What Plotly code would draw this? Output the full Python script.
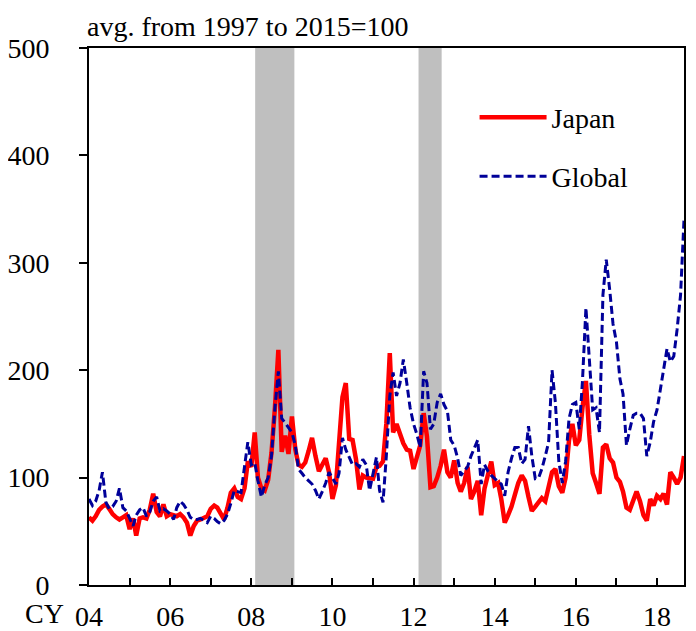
import pandas as pd
import plotly.graph_objects as go

# Monthly data, Jan 2004 - Sep 2018 (avg. 1997-2015 = 100)
start_month = "2004-01-01"

japan = [
    63, 60, 64, 70, 73, 75, 71, 66, 63, 61, 63, 65,          # 2004
    52, 62, 46, 62, 63, 62, 70, 85, 68, 64, 75, 64,          # 2005
    66, 65, 64, 66, 63, 58, 46, 55, 60, 61, 62, 64,          # 2006
    71, 74, 72, 67, 61, 72, 86, 90, 82, 80, 90, 115,         # 2007
    110, 142, 100, 90, 88, 98, 123, 165, 219, 124, 139, 122, # 2008
    157, 126, 112, 110, 114, 125, 137, 120, 106, 112, 118, 105,  # 2009
    80, 93, 140, 175, 188, 136, 135, 117, 89, 102, 100, 100, # 2010
    99, 110, 111, 115, 150, 216, 142, 150, 140, 132, 126, 125,   # 2011
    108, 118, 130, 160, 138, 91, 92, 100, 111, 126, 105, 100,    # 2012
    116, 95, 87, 95, 110, 80, 87, 97, 65, 90, 105, 115,      # 2013
    93, 95, 80, 58, 65, 73, 84, 95, 102, 97, 82, 69,         # 2014
    73, 77, 81, 78, 92, 105, 108, 92, 86, 100, 135, 150,     # 2015
    130, 135, 165, 190, 140, 104, 95, 85, 128, 131, 118, 114,    # 2016
    100, 96, 87, 72, 70, 80, 87, 78, 65, 60, 80, 74,         # 2017
    83, 80, 85, 75, 105, 100, 94, 100, 120,                  # 2018
]

global_idx = [
    80, 74, 78, 88, 105, 77, 71, 73, 78, 90, 72, 69,         # 2004
    62, 55, 65, 70, 72, 64, 68, 78, 82, 69, 71, 69,          # 2005
    66, 61, 72, 78, 75, 70, 63, 61, 61, 62, 60, 58,          # 2006
    64, 62, 59, 57, 60, 66, 76, 88, 87, 86, 110, 133,        # 2007
    112, 114, 97, 82, 93, 100, 120, 165, 199, 155, 151, 147, # 2008
    142, 130, 108, 104, 100, 97, 94, 88, 80, 87, 95, 105,    # 2009
    100, 94, 104, 137, 126, 118, 112, 113, 110, 117, 112, 88,    # 2010
    105, 119, 88, 77, 120, 176, 198, 176, 188, 210, 188, 165,    # 2011
    150, 140, 128, 199, 188, 145, 150, 170, 178, 168, 162, 135,  # 2012
    130, 118, 102, 106, 110, 120, 128, 135, 94, 112, 106, 102,   # 2013
    99, 96, 94, 83, 105, 118, 128, 128, 113, 117, 148, 120,  # 2014
    99, 100, 108, 120, 133, 200, 170, 115, 95, 115, 155, 168,    # 2015
    170, 145, 190, 258, 215, 163, 165, 142, 270, 303, 275, 243,  # 2016
    226, 192, 178, 130, 145, 158, 160, 160, 155, 120, 133, 152,  # 2017
    163, 182, 200, 220, 208, 213, 238, 270, 340,             # 2018
]

recession_start = ["2008-02-05", "2012-02-15"]
recession_end = ["2009-01-23", "2012-09-10"]

tick_years = list(range(2004, 2019))
tick_labels = [("%02d" % (y % 100)) if y % 2 == 0 else "" for y in tick_years]

dates = pd.date_range(start_month, periods=len(japan), freq="MS")

FONT = "Liberation Serif"
fig = go.Figure()

fig.add_trace(go.Scatter(
    x=dates, y=japan, name="Japan", mode="lines",
    line=dict(color="#FF0000", width=4.5),
    legend="legend",
))
fig.add_trace(go.Scatter(
    x=dates, y=global_idx, name="Global", mode="lines",
    line=dict(color="#000099", width=3, dash="8px,4px"),
    legend="legend2",
))

for s, e in zip(recession_start, recession_end):
    fig.add_shape(type="rect", xref="x", yref="paper", x0=s, x1=e, y0=0, y1=1,
                  fillcolor="#BFBFBF", line=dict(width=0), layer="below")

fig.update_layout(
    width=688, height=623,
    margin=dict(l=81, r=12, t=40, b=46, autoexpand=False),
    paper_bgcolor="white", plot_bgcolor="white",
    font=dict(family=FONT, size=28, color="black"),
    showlegend=True,
    legend=dict(x=0.648, y=0.917, xanchor="left", yanchor="top",
                bgcolor="rgba(0,0,0,0)", itemwidth=67,
                font=dict(family=FONT, size=28)),
    legend2=dict(x=0.648, y=0.807, xanchor="left", yanchor="top",
                 bgcolor="rgba(0,0,0,0)", itemwidth=67,
                 font=dict(family=FONT, size=28)),
    xaxis=dict(
        type="date", automargin=False,
        range=[dates[0], dates[-1]],
        tickmode="array",
        tickvals=[pd.Timestamp(f"{y}-01-01") for y in tick_years],
        ticktext=tick_labels,
        ticks="inside", ticklen=7, tickwidth=2, tickcolor="black",
        showline=True, linecolor="black", linewidth=2, mirror=True,
        showgrid=False, zeroline=False,
        ticklabelstandoff=5,
        tickfont=dict(family=FONT, size=28),
    ),
    yaxis=dict(
        range=[0, 500], dtick=100, automargin=False,
        ticks="outside", ticklen=8, tickwidth=2, tickcolor="black",
        showline=True, linecolor="black", linewidth=2, mirror=True,
        showgrid=False, zeroline=False,
        ticklabelstandoff=24,
        tickfont=dict(family=FONT, size=28),
    ),
    annotations=[
        dict(text="avg. from 1997 to 2015=100", xref="paper", yref="paper",
             x=0, y=1, xanchor="left", yanchor="bottom", showarrow=False,
             xshift=-4, yshift=4, font=dict(family=FONT, size=28)),
        dict(text="CY", xref="paper", yref="paper",
             x=-0.074, y=0, xanchor="center", yanchor="top", showarrow=False,
             yshift=-11, font=dict(family=FONT, size=28)),
    ],
)

fig.write_html("out.html")
